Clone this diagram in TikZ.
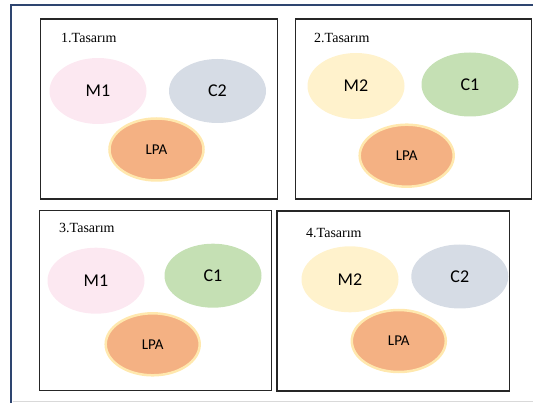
\documentclass[tikz,border=0pt]{standalone}
\usepackage{fontspec}
\setmainfont{Liberation Serif}
\newfontfamily\calibri{Carlito}
\usetikzlibrary{shapes.geometric}
\definecolor{frameblue}{HTML}{2E4570}
\definecolor{mpink}{HTML}{FCE8F1}
\definecolor{mgold}{HTML}{FFF2CC}
\definecolor{cgray}{HTML}{D6DCE5}
\definecolor{cgreen}{HTML}{C5E0B4}
\definecolor{lpaorange}{HTML}{F4B183}
\definecolor{lpaedge}{HTML}{FFE8AE}

\begin{document}
\begin{tikzpicture}[x=1pt, y=-1pt,
    kutu/.style={draw=black!85, line width=1.1pt},
    baslik/.style={anchor=base west, inner sep=0pt, font=\fontsize{14}{14}\selectfont},
    elips/.style={ellipse, inner sep=0pt, minimum width=97pt, minimum height=66pt, font=\calibri\fontsize{18}{18}\selectfont},
    lpa/.style={ellipse, inner sep=0pt, minimum width=94pt, minimum height=62pt, fill=lpaorange, draw=lpaedge, line width=2.5pt, font=\calibri\fontsize{15}{15}\selectfont}]
    \useasboundingbox (0,0) rectangle (533,403);

    % Cerceve
    \draw[frameblue, line width=2.2pt] (533,4.8) -- (11.3,4.8) -- (11.3,403);
    \draw[black!15, line width=0.8pt] (12.5,401.6) -- (533,401.6);

    % 1.Tasarim
    \draw[kutu] (40.3,19) rectangle (277.7,199);
    \node[baslik] (t1) at (61,42.7) {1.Tasarım};
    \node[elips, fill=mpink] (m1a) at (98,91) {M1};
    \node[elips, fill=cgray, minimum height=64pt] (c2a) at (217.5,91) {C2};
    \node[lpa] (lpa1) at (156.5,149.5) {LPA};

    % 2.Tasarim
    \draw[kutu] (295.7,19) rectangle (531.5,199);
    \node[baslik] (t2) at (314,42.7) {2.Tasarım};
    \node[elips, fill=mgold] (m2a) at (356,86) {M2};
    \node[elips, fill=cgreen, minimum height=64pt] (c1a) at (470,84.5) {C1};
    \node[lpa] (lpa2) at (406.7,155.7) {LPA};

    % 3.Tasarim
    \draw[kutu] (39.7,210.3) rectangle (271.7,390.3);
    \node[baslik] (t3) at (59,233) {3.Tasarım};
    \node[elips, fill=mpink] (m1b) at (96,280.7) {M1};
    \node[elips, fill=cgreen, minimum height=64pt] (c1b) at (213,275.7) {C1};
    \node[lpa] (lpa3) at (152.7,344.3) {LPA};

    % 4.Tasarim
    \draw[kutu] (277,211) rectangle (509.3,391);
    \node[baslik] (t4) at (306,237.5) {4.Tasarım};
    \node[elips, fill=mgold] (m2b) at (350,279.3) {M2};
    \node[elips, fill=cgray, minimum height=64pt] (c2b) at (459.8,276.5) {C2};
    \node[lpa] (lpa4) at (398.8,341) {LPA};

\end{tikzpicture}
\end{document}
